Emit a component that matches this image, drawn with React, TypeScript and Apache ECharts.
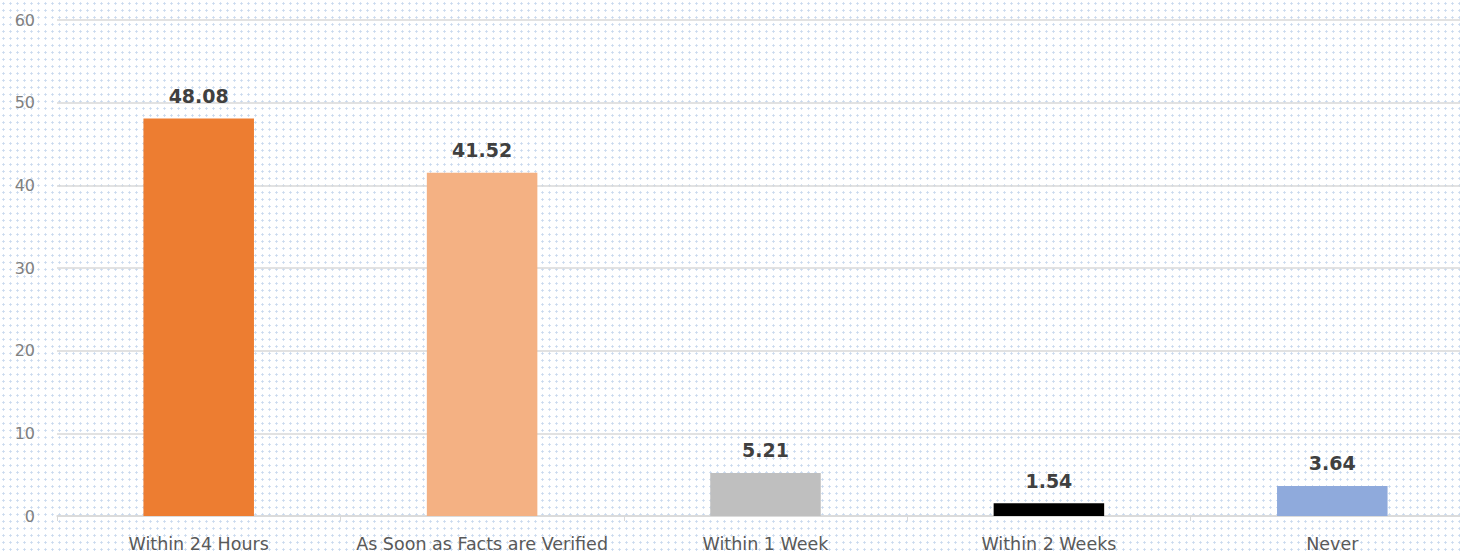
import React, { useEffect, useRef } from "react";
import * as echarts from "echarts";

const categories = ["Within 24 Hours", "As Soon as Facts are Verified", "Within 1 Week", "Within 2 Weeks", "Never"];
const values = [48.08, 41.52, 5.21, 1.54, 3.64];
const barColors = ["#ED7D31", "#F4B183", "#BFBFBF", "#000000", "#8FAADC"];
const yTicks = { min: 0, max: 60, interval: 10 };

export default function App() {
  const ref = useRef<HTMLDivElement>(null);
  useEffect(() => {
    if (!ref.current) return;
    const chart = echarts.init(ref.current, undefined, { renderer: "svg" });
    chart.setOption({
      animation: false,
      grid: { left: 57, right: 0, top: 20, bottom: 38, containLabel: false },
      xAxis: {
        type: "category",
        data: categories,
        axisLine: { lineStyle: { color: "#d9d9d9", width: 1.5 } },
        axisTick: { show: true, length: 5, lineStyle: { color: "#d9d9d9" } },
        axisLabel: { color: "#595959", fontSize: 17.5, fontFamily: "DejaVu Sans", margin: 19, interval: 0, hideOverlap: false },
      },
      yAxis: {
        type: "value",
        min: yTicks.min,
        max: yTicks.max,
        interval: yTicks.interval,
        axisLine: { show: false },
        axisTick: { show: false },
        axisLabel: { color: "#808080", fontSize: 16, fontFamily: "DejaVu Sans", margin: 22 },
        splitLine: { lineStyle: { color: "#d9d9d9", width: 1.5 } },
      },
      series: [
        {
          type: "bar",
          barWidth: "39%",
          data: values.map((v, i) => ({ value: v, itemStyle: { color: barColors[i] } })),
          label: {
            show: true,
            position: "top",
            distance: 13,
            color: "#404040",
            fontSize: 19,
            fontWeight: "bold",
            fontFamily: "DejaVu Sans",
            formatter: (p: any) => p.value.toFixed(2),
          },
        },
      ],
    });
    return () => chart.dispose();
  }, []);
  return (
    <div
      style={{
        position: "fixed",
        left: 0,
        top: 0,
        width: 1460,
        height: 554,
        overflow: "hidden",
        backgroundColor: "#ffffff",
        backgroundImage: "radial-gradient(circle, #c9d9ee 0.9px, rgba(255,255,255,0) 1.4px)",
        backgroundSize: "7px 7px",
      }}
    >
      <div ref={ref} style={{ width: 1474, height: 554 }} />
    </div>
  );
}
